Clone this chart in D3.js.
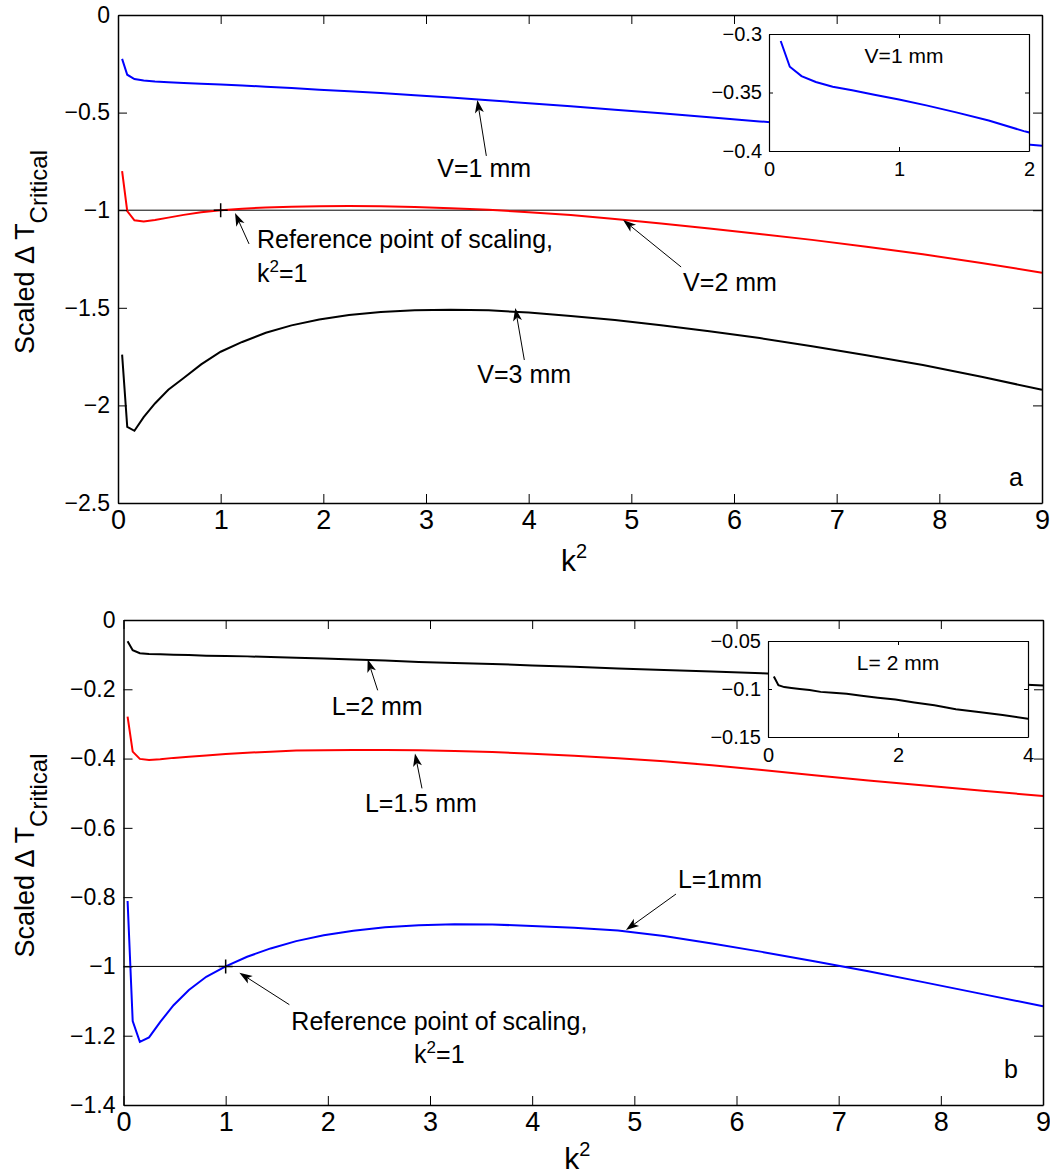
<!DOCTYPE html>
<html>
<head>
<meta charset="utf-8">
<script src="https://cdn.jsdelivr.net/npm/d3@7"></script>
<style>
body { margin: 0; background: #fff; }
text { font-family: "Liberation Sans", Arial, Helvetica, sans-serif; fill: #000; }
</style>
</head>
<body>
<svg id="fig" width="1050" height="1176"></svg>
<script>
// k^2 sample points (k = 0.2 ... 3.0)
var k2 = [0.04,0.09,0.16,0.25,0.36,0.49,0.64,0.81,1,1.21,1.44,1.69,1.96,2.25,2.56,2.89,3.24,3.61,4,4.41,4.84,5.29,5.76,6.25,6.76,7.29,7.84,8.41,9];

// panel a : scaled dT critical for different V
var dTV1 = [-0.225,-0.306,-0.328,-0.336,-0.341,-0.345,-0.348,-0.352,-0.356,-0.361,-0.367,-0.374,-0.383,-0.391,-0.400,-0.411,-0.423,-0.437,-0.452,-0.468,-0.485,-0.503,-0.524,-0.545,-0.568,-0.592,-0.617,-0.643,-0.670];
var dTV2 = [-0.800,-1.005,-1.052,-1.058,-1.050,-1.038,-1.024,-1.011,-1.000,-0.992,-0.986,-0.982,-0.980,-0.979,-0.980,-0.984,-0.990,-0.998,-1.010,-1.024,-1.045,-1.068,-1.094,-1.122,-1.152,-1.187,-1.226,-1.270,-1.320];
var dTV3 = [-1.740,-2.110,-2.130,-2.060,-1.990,-1.920,-1.860,-1.790,-1.725,-1.675,-1.628,-1.590,-1.560,-1.537,-1.522,-1.513,-1.510,-1.513,-1.524,-1.542,-1.563,-1.590,-1.620,-1.655,-1.697,-1.743,-1.793,-1.853,-1.920];

// panel b : scaled dT critical for different L
var dTL2  = [-0.061,-0.087,-0.096,-0.098,-0.099,-0.100,-0.101,-0.103,-0.104,-0.105,-0.107,-0.109,-0.111,-0.114,-0.117,-0.121,-0.124,-0.127,-0.131,-0.135,-0.140,-0.144,-0.149,-0.154,-0.161,-0.167,-0.174,-0.181,-0.189];
var dTL15 = [-0.279,-0.380,-0.401,-0.404,-0.402,-0.398,-0.395,-0.391,-0.387,-0.383,-0.380,-0.377,-0.376,-0.375,-0.375,-0.376,-0.378,-0.381,-0.386,-0.392,-0.399,-0.408,-0.419,-0.433,-0.448,-0.463,-0.478,-0.493,-0.508];
var dTL1  = [-0.811,-1.158,-1.218,-1.205,-1.160,-1.112,-1.068,-1.030,-1.000,-0.972,-0.948,-0.927,-0.910,-0.897,-0.887,-0.881,-0.878,-0.879,-0.883,-0.888,-0.896,-0.912,-0.934,-0.958,-0.985,-1.014,-1.046,-1.080,-1.115];

// ticks
var xTicks = [0,1,2,3,4,5,6,7,8,9];
var yTicksA = [0,-0.5,-1,-1.5,-2,-2.5];
var yTicksB = [0,-0.2,-0.4,-0.6,-0.8,-1,-1.2,-1.4];
var insetXTicksA = [0,1,2];
var insetYTicksA = [-0.3,-0.35,-0.4];
var insetXTicksB = [0,2,4];
var insetYTicksB = [-0.05,-0.1,-0.15];

var svg = d3.select("#fig");
var fmt = d3.format("~g");
var FONT = '"Liberation Sans", Arial, Helvetica, sans-serif';

// arrow from tail (x1,y1) to tip (x2,y2), matlab style head
function arrow(g, x1, y1, x2, y2) {
    var a = Math.atan2(y2 - y1, x2 - x1);
    var L = 13, W = 4.5;
    var c = Math.cos(a), s = Math.sin(a);
    var bx = x2 - L * c, by = y2 - L * s;
    var nx = x2 - 0.75 * L * c, ny = y2 - 0.75 * L * s;
    g.append("line")
        .attr("x1", x1).attr("y1", y1).attr("x2", nx).attr("y2", ny)
        .attr("stroke", "#000").attr("stroke-width", 1);
    g.append("path")
        .attr("d", "M" + x2 + "," + y2 +
            "L" + (bx - W * s) + "," + (by + W * c) +
            "L" + nx + "," + ny +
            "L" + (bx + W * s) + "," + (by - W * c) + "Z")
        .attr("fill", "#000");
}

function styleAxis(sel, size) {
    sel.attr("font-size", size).attr("font-family", FONT);
    sel.select(".domain").attr("stroke", "#000").attr("stroke-width", 1.5);
    sel.selectAll(".tick line").attr("stroke", "#000").attr("stroke-width", 1);
    sel.selectAll(".tick text").attr("fill", "#000");
}

function drawPanel(p) {
    var x = d3.scaleLinear().domain([0, 9]).range([p.left, p.right]);
    var y = d3.scaleLinear().domain(p.yDomain).range([p.bottom, p.top]);
    var g = svg.append("g");

    // reference line at -1
    g.append("line")
        .attr("x1", x(0)).attr("x2", x(9))
        .attr("y1", y(-1)).attr("y2", y(-1))
        .attr("stroke", "#000").attr("stroke-width", 1);

    var line = d3.line()
        .x(function(d, i) { return x(k2[i]); })
        .y(function(d) { return y(d); });

    p.series.forEach(function(s) {
        g.append("path").datum(s.values)
            .attr("d", line)
            .attr("fill", "none")
            .attr("stroke", s.color)
            .attr("stroke-width", 2);
    });

    // axes, ticks inside, box
    g.append("g").attr("transform", "translate(0," + p.bottom + ")")
        .call(d3.axisBottom(x).tickValues(xTicks).tickSize(-9).tickSizeOuter(0).tickPadding(7).tickFormat(fmt))
        .call(styleAxis, 27);
    g.append("g").attr("transform", "translate(0," + p.top + ")")
        .call(d3.axisTop(x).tickValues(xTicks).tickSize(-9).tickSizeOuter(0).tickFormat(""))
        .call(styleAxis, 27);
    g.append("g").attr("transform", "translate(" + p.left + ",0)")
        .call(d3.axisLeft(y).tickValues(p.yTicks).tickSize(-9).tickSizeOuter(0).tickPadding(8).tickFormat(fmt))
        .call(styleAxis, 23);
    g.append("g").attr("transform", "translate(" + p.right + ",0)")
        .call(d3.axisRight(y).tickValues(p.yTicks).tickSize(-9).tickSizeOuter(0).tickFormat(""))
        .call(styleAxis, 23);

    // reference point marker
    var px = x(1), py = y(-1);
    g.append("path")
        .attr("d", "M" + (px - 7) + "," + py + "H" + (px + 7) + "M" + px + "," + (py - 7) + "V" + (py + 7))
        .attr("stroke", "#000").attr("stroke-width", 1.5);

    // annotations
    p.notes.forEach(function(n) {
        var tx = x(n.at[0]), ty = y(n.at[1]);
        arrow(g, tx + n.tail[0], ty + n.tail[1], tx, ty);
        n.lines.forEach(function(l) {
            var t = g.append("text")
                .attr("x", tx + l.dx).attr("y", ty + l.dy)
                .attr("font-size", 25)
                .attr("text-anchor", l.anchor || "start");
            if (l.sup) {
                t.append("tspan").text("k");
                t.append("tspan").attr("font-size", 17).attr("dy", -10).text("2");
                t.append("tspan").attr("dy", 10).text("=1");
            } else {
                t.text(l.text);
            }
        });
    });

    // panel letter
    g.append("text")
        .attr("x", x(9) - p.letterDx).attr("y", y(p.yDomain[0]) - p.letterDy)
        .attr("font-size", 25)
        .text(p.letter);

    // axis labels
    var xl = g.append("text")
        .attr("x", (p.left + p.right) / 2 - 6).attr("y", p.bottom + p.xLabelDy)
        .attr("text-anchor", "middle")
        .attr("font-size", 30);
    xl.append("tspan").text("k");
    xl.append("tspan").attr("font-size", 20).attr("dy", -13).text("2");

    var yl = g.append("text")
        .attr("transform", "translate(34," + ((p.top + p.bottom) / 2 - 7) + ") rotate(-90)")
        .attr("text-anchor", "middle")
        .attr("font-size", 27);
    yl.append("tspan").text("Scaled \u0394 T");
    yl.append("tspan").attr("font-size", 24).attr("dy", 13).text("Critical");

    // inset
    var q = p.inset;
    var ix = d3.scaleLinear().domain(q.xDomain).range([q.left, q.right]);
    var iy = d3.scaleLinear().domain(q.yDomain).range([q.bottom, q.top]);
    var ig = g.append("g");
    ig.append("rect")
        .attr("x", q.left).attr("y", q.top)
        .attr("width", q.right - q.left).attr("height", q.bottom - q.top)
        .attr("fill", "#fff");
    ig.append("clipPath").attr("id", q.id)
        .append("rect")
        .attr("x", q.left).attr("y", q.top)
        .attr("width", q.right - q.left).attr("height", q.bottom - q.top);
    var iline = d3.line()
        .x(function(d, i) { return ix(k2[i + 1]); })
        .y(function(d) { return iy(d); });
    ig.append("path").datum(q.values.slice(1))
        .attr("clip-path", "url(#" + q.id + ")")
        .attr("d", iline)
        .attr("fill", "none")
        .attr("stroke", q.color)
        .attr("stroke-width", 2);
    ig.append("g").attr("transform", "translate(0," + q.bottom + ")")
        .call(d3.axisBottom(ix).tickValues(q.xTicks).tickSize(-4).tickSizeOuter(0).tickPadding(11).tickFormat(fmt))
        .call(styleAxis, 20);
    ig.append("g").attr("transform", "translate(0," + q.top + ")")
        .call(d3.axisTop(ix).tickValues(q.xTicks).tickSize(-4).tickSizeOuter(0).tickFormat(""))
        .call(styleAxis, 20);
    ig.append("g").attr("transform", "translate(" + q.left + ",0)")
        .call(d3.axisLeft(iy).tickValues(q.yTicks).tickSize(-4).tickSizeOuter(0).tickPadding(7).tickFormat(fmt))
        .call(styleAxis, 20);
    ig.append("g").attr("transform", "translate(" + q.right + ",0)")
        .call(d3.axisRight(iy).tickValues(q.yTicks).tickSize(-4).tickSizeOuter(0).tickFormat(""))
        .call(styleAxis, 20);
    ig.selectAll(".domain").attr("stroke-width", 1.2);
    ig.append("text")
        .attr("x", q.titleX).attr("y", q.top + 29)
        .attr("text-anchor", "middle")
        .attr("font-size", 21)
        .text(q.title);
}

drawPanel({
    left: 118, right: 1042, top: 15, bottom: 503,
    yDomain: [-2.5, 0], yTicks: yTicksA,
    series: [
        {values: dTV1, color: "#0000ff"},
        {values: dTV2, color: "#ff0000"},
        {values: dTV3, color: "#000000"}
    ],
    notes: [
        {at: [3.5, -0.435], tail: [9, 56], lines: [{dx: -40, dy: 77, text: "V=1 mm"}]},
        {at: [1.14, -1.014], tail: [14, 31], lines: [
            {dx: 22, dy: 35, text: "Reference point of scaling,"},
            {dx: 22, dy: 69, sup: true}]},
        {at: [4.92, -1.05], tail: [58, 47], lines: [{dx: 60, dy: 71, text: "V=2 mm"}]},
        {at: [3.87, -1.501], tail: [9, 52], lines: [{dx: -38, dy: 75, text: "V=3 mm"}]}
    ],
    letter: "a", letterDx: 33, letterDy: 17,
    xLabelDy: 68,
    inset: {
        id: "clipA", left: 769, right: 1029, top: 34, bottom: 151,
        xDomain: [0, 2], yDomain: [-0.4, -0.3],
        xTicks: insetXTicksA, yTicks: insetYTicksA,
        values: dTV1, color: "#0000ff",
        title: "V=1 mm", titleX: 904
    }
});

drawPanel({
    left: 123.5, right: 1043, top: 620, bottom: 1105,
    yDomain: [-1.4, 0], yTicks: yTicksB,
    series: [
        {values: dTL2, color: "#000000"},
        {values: dTL15, color: "#ff0000"},
        {values: dTL1, color: "#0000ff"}
    ],
    notes: [
        {at: [2.39, -0.1135], tail: [10, 31], lines: [{dx: -36, dy: 56, text: "L=2 mm"}]},
        {at: [2.853, -0.385], tail: [7, 35], lines: [{dx: -50, dy: 59, text: "L=1.5 mm"}]},
        {at: [4.918, -0.895], tail: [50, -36], lines: [{dx: 52, dy: -42, text: "L=1mm"}]},
        {at: [1.134, -1.018], tail: [50, 32], lines: [
            {dx: 200, dy: 57, text: "Reference point of scaling,", anchor: "middle"},
            {dx: 200, dy: 90, sup: true, anchor: "middle"}]}
    ],
    letter: "b", letterDx: 39, letterDy: 27,
    xLabelDy: 64,
    inset: {
        id: "clipB", left: 768, right: 1028, top: 641, bottom: 737,
        xDomain: [0, 4], yDomain: [-0.15, -0.05],
        xTicks: insetXTicksB, yTicks: insetYTicksB,
        values: dTL2, color: "#000000",
        title: "L= 2 mm", titleX: 898
    }
});
</script>
</body>
</html>
